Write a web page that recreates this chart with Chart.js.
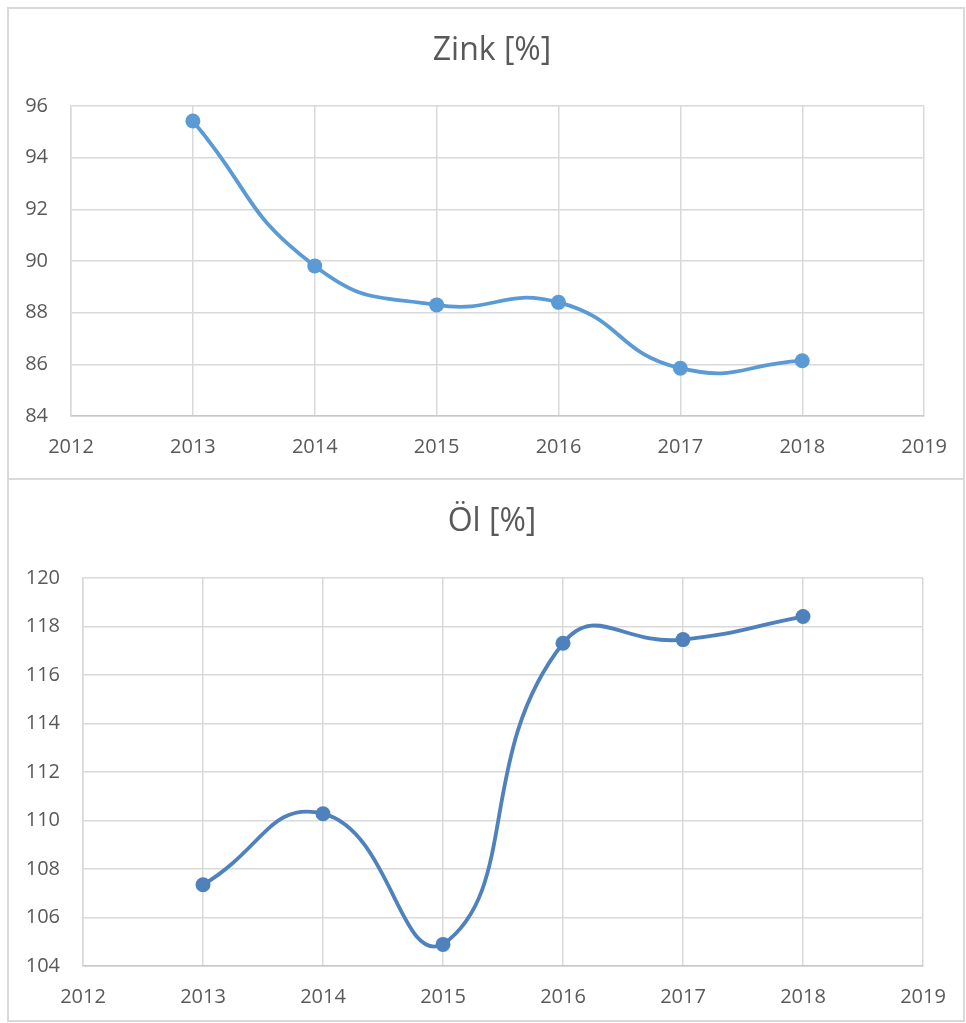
<!DOCTYPE html>
<html>
<head>
<meta charset="utf-8">
<script src="https://cdn.jsdelivr.net/npm/chart.js@4.4.1/dist/chart.umd.min.js"></script>
<style>
  body { margin: 0; background: #fff; width: 966px; height: 1023px; overflow: hidden; position: relative; }
  .box { position: absolute; box-sizing: border-box; border: 2px solid #d9d9d9; }
  .wrap { position: absolute; left: 0; width: 966px; }
</style>
</head>
<body>
<div class="box" style="left:7px; top:7px; width:958px; height:473px;"></div>
<div class="box" style="left:7px; top:478px; width:958px; height:544px;"></div>
<div class="wrap" style="top:0; height:478px;"><canvas id="zink"></canvas></div>
<div class="wrap" style="top:478px; height:545px;"><canvas id="oel"></canvas></div>
<script>
const years = [2013, 2014, 2015, 2016, 2017, 2018];
const zinc = [95.42, 89.81, 88.30, 88.40, 85.85, 86.14];
const oil = [107.35, 110.28, 104.89, 117.31, 117.46, 118.41];
const xTicks = [2012, 2019];

const grey = '#595959';
const gridColor = '#d9d9d9';
const font = 'Open Sans';

// nudge the title a bit right, like the original
const titleShift = {
  id: 'titleShift',
  afterLayout(chart, args, opts) {
    const t = chart.titleBlock;
    if (t) { t.left += opts.shift; t.right += opts.shift; }
  }
};

function makeChart(id, title, values, color, yMin, yMax, opt) {
  const ctx = document.getElementById(id).getContext('2d');
  return new Chart(ctx, {
    type: 'line',
    data: {
      datasets: [{
        data: years.map((y, i) => ({ x: y, y: values[i] })),
        borderColor: color,
        backgroundColor: color,
        borderWidth: 3.8,
        pointRadius: 7.5,
        pointBorderWidth: 0,
        pointHoverRadius: 7.5,
        tension: 0.5,
        fill: false
      }]
    },
    plugins: [titleShift],
    options: {
      responsive: true,
      maintainAspectRatio: false,
      animation: false,
      layout: { padding: { left: 7, right: opt.right, top: 0, bottom: 0 } },
      plugins: {
        legend: { display: false },
        tooltip: { enabled: false },
        titleShift: { shift: opt.shift },
        title: {
          display: true,
          text: title,
          color: grey,
          font: { family: font, size: 32, weight: 'normal' },
          padding: { top: opt.titleTop, bottom: opt.titleBottom }
        }
      },
      scales: {
        x: {
          type: 'linear',
          min: xTicks[0],
          max: xTicks[1],
          ticks: {
            stepSize: 1,
            color: grey,
            padding: 19,
            font: { family: font, size: 20 },
            callback: v => String(v)
          },
          grid: { color: gridColor, lineWidth: 1.5, drawTicks: false },
          border: { color: '#c8c8c8', width: 1.5 },
          afterFit: s => { s.height = opt.xHeight; }
        },
        y: {
          min: yMin,
          max: yMax,
          ticks: {
            stepSize: 2,
            color: grey,
            padding: 23,
            font: { family: font, size: 20 }
          },
          grid: { color: gridColor, lineWidth: 1.5, drawTicks: false },
          border: { color: gridColor, width: 1.5 },
          afterFit: s => { s.width = opt.yWidth; }
        }
      }
    }
  });
}

makeChart('zink', 'Zink [%]', zinc, '#5b9bd5', 84, 96,
  { right: 41, titleTop: 32, titleBottom: 35.6, xHeight: 62, yWidth: 64, shift: 26 });
makeChart('oel', 'Öl [%]', oil, '#4f81bd', 104, 120,
  { right: 43, titleTop: 24.8, titleBottom: 36.8, xHeight: 57, yWidth: 76, shift: 27 });
</script>
</body>
</html>
